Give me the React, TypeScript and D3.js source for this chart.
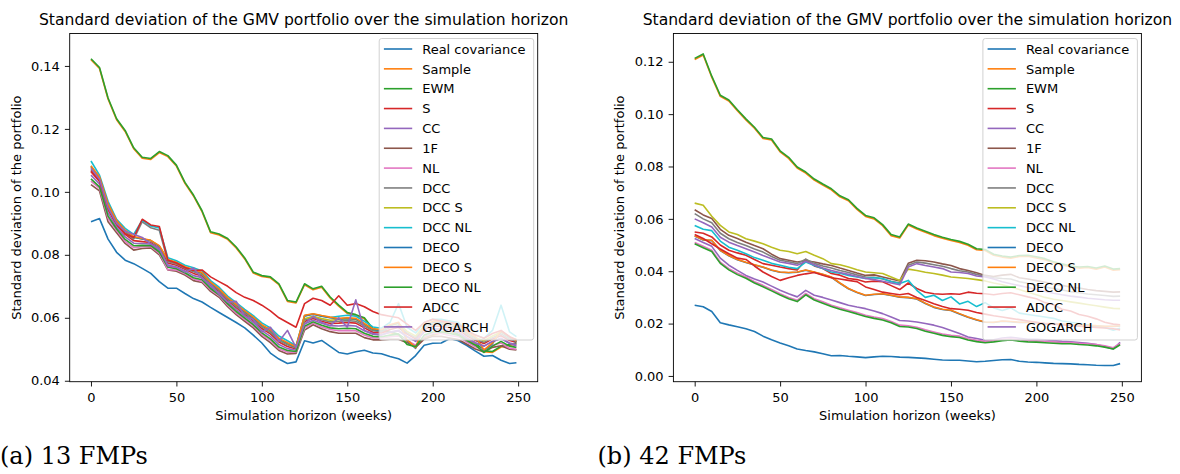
import React, { useEffect, useRef } from "react";
import * as d3 from "d3";

const WEEKS = [
  0, 5, 10, 15, 20, 25, 30, 35, 40, 45, 50, 55, 60, 65, 70, 75, 80, 85, 90, 95,
  100, 105, 110, 115, 120, 125, 130, 135, 140, 145, 150, 155, 160, 165, 170,
  175, 180, 185, 190, 195, 200, 205, 210, 215, 220, 225, 230, 235, 240, 245, 249,
];

const X_TICKS = [0, 50, 100, 150, 200, 250];
const A_Y_TICKS = [0.04, 0.06, 0.08, 0.1, 0.12, 0.14];
const B_Y_TICKS = [0, 0.02, 0.04, 0.06, 0.08, 0.1, 0.12];

const LABELS = [
  "Real covariance", "Sample", "EWM", "S", "CC", "1F", "NL", "DCC", "DCC S",
  "DCC NL", "DECO", "DECO S", "DECO NL", "ADCC", "GOGARCH",
];

const COLORS = [
  "#1f77b4", "#ff7f0e", "#2ca02c", "#d62728", "#9467bd", "#8c564b", "#e377c2",
  "#7f7f7f", "#bcbd22", "#17becf", "#1f77b4", "#ff7f0e", "#2ca02c", "#d62728",
  "#9467bd",
];

const TITLE = "Standard deviation of the GMV portfolio over the simulation horizon";

// (a) 13 FMPs -- standard deviation x 1000
const A_REAL = [90.5, 91.5, 85.0, 80.8, 78.3, 77.2, 75.7, 74.1, 71.5, 69.4, 69.4, 67.7, 66.1, 65.0, 63.3, 61.7, 60.1, 58.5, 56.8, 54.5, 52.0, 48.8, 46.9, 45.5, 46.0, 52.7, 52.0, 52.8, 50.9, 49.0, 48.5, 49.2, 49.7, 48.8, 48.6, 47.7, 47.0, 45.6, 48.0, 51.3, 51.9, 52.0, 53.4, 52.7, 51.2, 49.4, 47.8, 48.0, 46.5, 45.5, 45.7];
const A_SAMPLE = [142.0, 139.2, 129.5, 122.9, 119.2, 113.7, 110.7, 110.3, 112.5, 111.2, 108.2, 102.7, 98.7, 93.7, 87.0, 86.3, 84.9, 82.2, 78.7, 74.2, 73.1, 72.7, 70.5, 65.2, 64.7, 70.5, 68.9, 69.7, 66.3, 63.7, 61.4, 60.7, 59.7, 56.2, 55.7, 55.3, 54.5, 52.5, 50.7, 53.7, 54.5, 55.2, 55.7, 54.5, 53.2, 51.7, 49.2, 49.0, 50.7, 51.2, 51.7];
const A_EWM = [142.3, 139.5, 129.8, 123.2, 119.5, 114.0, 111.0, 110.6, 112.8, 111.5, 108.5, 103.0, 99.0, 94.0, 87.3, 86.6, 85.2, 82.5, 79.0, 74.5, 73.4, 73.0, 70.8, 65.5, 65.0, 70.8, 69.2, 70.0, 66.6, 64.0, 61.7, 61.0, 60.0, 56.5, 56.0, 55.6, 54.8, 52.8, 51.0, 54.0, 54.8, 55.5, 56.0, 54.8, 53.5, 52.0, 49.5, 49.3, 51.0, 51.5, 52.0];
const A_S = [106.4, 103.3, 94.4, 89.5, 86.5, 84.5, 84.2, 83.9, 82.0, 77.4, 76.7, 75.4, 74.1, 73.3, 70.4, 68.4, 65.5, 63.2, 61.1, 59.1, 56.6, 54.9, 52.3, 50.9, 50.1, 58.8, 59.8, 58.9, 58.2, 58.3, 58.5, 58.3, 56.8, 55.4, 55.2, 56.3, 56.9, 54.8, 53.3, 56.3, 57.3, 57.3, 56.8, 56.3, 54.3, 52.8, 51.8, 53.3, 54.3, 52.8, 52.2];
const A_CC = [105.3, 102.5, 93.3, 88.8, 85.7, 83.7, 83.6, 83.4, 81.4, 76.8, 76.1, 74.9, 73.4, 72.7, 69.8, 67.9, 64.9, 62.6, 60.5, 58.5, 55.9, 54.1, 51.5, 50.2, 49.7, 58.0, 59.2, 58.3, 57.5, 57.4, 57.6, 57.4, 55.9, 54.8, 54.6, 55.4, 55.8, 54.0, 52.5, 55.4, 56.4, 56.4, 55.9, 55.4, 53.5, 52.0, 51.0, 52.5, 53.4, 52.0, 51.5];
const A_1F = [102.3, 100.3, 90.5, 87.0, 83.6, 81.5, 82.0, 82.2, 80.0, 75.2, 74.8, 73.6, 71.8, 71.2, 68.4, 66.5, 63.5, 61.0, 58.9, 56.8, 54.1, 52.1, 49.6, 48.5, 48.7, 56.1, 57.8, 56.5, 55.6, 55.1, 55.1, 55.1, 53.7, 53.0, 53.0, 53.2, 53.2, 52.1, 50.6, 53.2, 54.1, 54.1, 53.6, 53.1, 51.6, 50.1, 49.1, 50.6, 51.1, 50.0, 49.8];
const A_NL = [103.4, 101.1, 91.6, 87.7, 84.3, 82.3, 82.6, 82.6, 80.5, 75.3, 75.2, 74.0, 72.3, 71.6, 68.9, 67.0, 64.0, 61.5, 59.4, 57.4, 54.7, 52.8, 50.2, 49.1, 49.1, 56.8, 58.3, 57.1, 56.3, 55.9, 56.0, 55.9, 54.5, 53.6, 53.6, 54.0, 54.2, 52.8, 51.3, 54.0, 55.0, 55.0, 54.4, 54.0, 52.3, 50.8, 49.8, 51.3, 52.0, 50.3, 50.0];
const A_DCC = [107.1, 103.8, 95.0, 90.0, 87.0, 85.0, 90.5, 88.6, 87.8, 77.9, 77.1, 75.7, 74.6, 73.7, 70.8, 68.7, 65.9, 63.6, 61.5, 59.5, 57.1, 55.4, 52.8, 51.4, 50.4, 59.3, 60.2, 59.4, 58.7, 58.9, 59.1, 58.9, 57.4, 55.9, 55.6, 56.9, 57.5, 55.2, 53.7, 56.9, 57.9, 57.9, 57.4, 56.9, 54.7, 53.2, 52.2, 53.7, 54.9, 53.2, 52.7];
const A_DCC_S = [107.9, 104.4, 95.8, 90.5, 87.5, 85.6, 85.0, 84.5, 82.7, 78.3, 77.4, 76.1, 75.1, 74.1, 71.1, 69.1, 66.2, 64.0, 61.9, 60.0, 57.6, 55.9, 53.3, 51.8, 50.7, 59.7, 60.5, 59.8, 59.2, 59.5, 59.7, 59.5, 57.9, 56.3, 56.0, 57.5, 58.2, 55.7, 54.2, 57.5, 58.5, 58.5, 58.0, 57.5, 55.2, 53.7, 52.7, 54.2, 55.5, 53.7, 53.1];
const A_DCC_NL = [109.8, 105.3, 97.0, 91.3, 88.4, 86.5, 91.0, 89.2, 88.5, 79.1, 78.1, 76.7, 75.9, 74.9, 71.8, 69.7, 66.9, 64.8, 62.7, 60.7, 58.4, 56.8, 54.2, 52.7, 51.1, 60.6, 61.2, 60.6, 60.1, 60.5, 60.8, 60.5, 58.9, 57.1, 56.7, 58.5, 64.5, 57.0, 55.2, 58.5, 59.5, 59.5, 59.0, 58.5, 56.0, 54.5, 53.5, 56.0, 64.0, 55.5, 54.0];
const A_DECO = [108.1, 104.5, 96.0, 90.8, 87.6, 85.6, 85.0, 84.5, 82.7, 78.3, 77.5, 76.0, 75.1, 74.2, 71.1, 69.0, 66.2, 64.1, 62.0, 60.0, 57.6, 56.0, 53.3, 51.9, 50.6, 60.6, 61.1, 60.5, 60.0, 59.6, 59.8, 59.6, 58.0, 56.3, 56.0, 57.6, 58.4, 52.8, 50.3, 57.6, 58.6, 58.6, 58.1, 57.6, 55.3, 53.8, 49.6, 51.8, 55.6, 53.8, 52.3];
const A_DECO_S = [108.3, 104.7, 96.2, 90.9, 87.8, 85.8, 85.2, 84.6, 82.9, 78.5, 77.6, 76.2, 75.3, 74.4, 71.3, 69.2, 66.4, 64.3, 62.2, 60.2, 57.8, 56.2, 53.5, 52.1, 50.8, 60.8, 61.3, 60.7, 60.2, 59.8, 60.0, 59.8, 58.2, 56.5, 56.2, 57.8, 58.6, 53.0, 50.5, 57.8, 58.8, 58.8, 58.3, 57.8, 55.5, 54.0, 49.8, 52.0, 55.8, 54.0, 52.5];
const A_DECO_NL = [104.1, 101.6, 92.3, 88.2, 84.9, 82.9, 83.0, 82.9, 80.9, 76.1, 75.6, 74.3, 72.7, 72.1, 69.3, 67.3, 64.4, 62.0, 59.9, 57.8, 55.2, 53.3, 50.7, 49.6, 49.3, 57.3, 58.7, 57.6, 56.8, 56.5, 56.7, 56.5, 55.1, 54.1, 54.0, 54.5, 54.8, 51.5, 50.8, 54.5, 55.5, 55.5, 55.0, 54.5, 52.8, 51.3, 49.0, 51.0, 52.5, 51.0, 50.6];
const A_ADCC = [106.7, 103.5, 94.6, 89.8, 86.7, 85.5, 91.3, 89.5, 89.0, 78.3, 77.4, 76.0, 75.0, 75.2, 73.0, 71.5, 70.0, 68.0, 66.5, 65.5, 64.0, 62.2, 60.0, 58.5, 57.0, 64.5, 66.2, 65.5, 64.0, 67.0, 64.0, 64.5, 63.5, 62.0, 61.0, 60.5, 60.0, 58.0, 56.0, 58.5, 59.5, 59.0, 58.5, 58.0, 56.0, 54.5, 53.5, 55.0, 56.0, 54.0, 53.0];
const A_GOGARCH = [107.5, 104.0, 95.0, 90.0, 87.5, 86.5, 85.5, 83.5, 82.0, 76.5, 76.0, 74.5, 75.8, 72.5, 70.5, 67.5, 65.0, 65.2, 60.5, 59.5, 55.5, 57.0, 52.5, 56.0, 50.5, 58.0, 60.5, 58.5, 57.5, 60.0, 57.0, 65.7, 56.0, 55.0, 54.5, 55.5, 56.0, 54.0, 52.8, 55.5, 56.5, 56.5, 56.0, 55.5, 53.5, 52.0, 51.0, 52.5, 53.5, 51.8, 51.0];

// (b) 42 FMPs -- standard deviation x 1000
const B_REAL = [27.0, 26.4, 24.6, 20.3, 19.5, 18.8, 18.0, 17.0, 15.2, 13.8, 12.6, 11.5, 10.3, 9.7, 9.2, 8.5, 7.7, 7.8, 7.5, 7.3, 7.0, 7.3, 7.5, 7.4, 7.2, 7.1, 6.9, 6.7, 6.4, 6.1, 6.0, 6.0, 5.7, 5.4, 5.6, 5.9, 6.2, 6.3, 5.6, 5.3, 5.2, 5.0, 4.8, 4.7, 4.6, 4.4, 4.3, 4.1, 4.0, 4.0, 4.7];
const B_SAMPLE = [120.9, 122.6, 114.1, 106.8, 105.0, 101.3, 97.8, 94.6, 90.7, 90.1, 85.6, 83.1, 79.4, 77.5, 74.8, 72.9, 71.1, 68.4, 66.9, 63.6, 60.9, 60.0, 57.4, 53.6, 52.7, 57.6, 56.1, 54.9, 53.6, 52.6, 51.7, 51.0, 49.9, 48.2, 47.9, 46.1, 45.4, 45.0, 45.6, 45.7, 45.1, 44.4, 43.2, 42.4, 41.6, 41.2, 41.4, 40.8, 41.6, 40.4, 40.6];
const B_EWM = [121.3, 123.0, 114.5, 107.2, 105.4, 101.7, 98.2, 95.0, 91.1, 90.5, 86.0, 83.5, 79.8, 77.9, 75.2, 73.3, 71.5, 68.8, 67.3, 64.0, 61.3, 60.4, 57.8, 54.0, 53.1, 58.0, 56.5, 55.3, 54.0, 53.0, 52.1, 51.4, 50.3, 48.6, 48.3, 46.5, 45.8, 45.4, 46.0, 46.1, 45.5, 44.8, 43.6, 42.8, 42.0, 41.6, 41.8, 41.2, 42.0, 40.8, 41.0];
const B_S = [55.0, 54.5, 53.1, 50.0, 48.0, 47.0, 46.1, 44.5, 42.9, 42.3, 41.6, 41.0, 40.5, 44.5, 42.0, 41.0, 39.1, 38.5, 37.2, 36.8, 35.9, 36.2, 36.0, 34.5, 33.0, 35.5, 33.4, 32.0, 31.4, 31.2, 31.4, 31.2, 32.0, 31.6, 31.4, 31.0, 31.5, 31.8, 31.0, 30.2, 29.5, 28.0, 27.2, 25.5, 24.8, 23.5, 22.8, 21.8, 20.5, 19.8, 19.5];
const B_CC = [52.5, 51.0, 49.5, 45.0, 42.3, 40.3, 38.4, 37.0, 35.9, 34.3, 32.7, 31.4, 30.2, 32.7, 30.8, 30.0, 29.0, 28.0, 27.0, 26.3, 25.7, 24.8, 23.8, 22.5, 21.2, 21.0, 20.6, 20.0, 19.4, 18.5, 17.4, 16.2, 14.9, 14.3, 13.6, 13.8, 14.5, 14.8, 14.4, 14.0, 14.0, 13.8, 13.5, 13.2, 13.0, 12.8, 12.5, 12.0, 11.2, 10.3, 12.8];
const B_1F = [63.5, 61.5, 60.1, 56.0, 53.7, 52.5, 51.1, 49.8, 48.6, 46.5, 44.8, 44.2, 43.5, 44.0, 43.5, 42.8, 42.2, 41.2, 40.3, 39.3, 38.4, 38.6, 37.8, 37.0, 36.3, 43.0, 44.2, 44.0, 43.5, 42.8, 42.2, 41.0, 40.3, 39.4, 38.4, 38.0, 38.5, 38.8, 37.5, 37.0, 36.4, 35.8, 35.2, 34.6, 34.0, 33.6, 33.0, 32.6, 32.3, 32.0, 32.1];
const B_NL = [51.0, 49.5, 48.0, 43.5, 41.0, 39.2, 37.8, 36.0, 34.6, 33.0, 31.4, 30.0, 28.9, 31.5, 29.5, 28.3, 27.0, 26.0, 25.1, 24.2, 23.2, 22.5, 21.9, 20.8, 19.4, 19.2, 18.6, 17.6, 16.8, 16.0, 15.5, 15.2, 14.2, 13.6, 13.2, 13.5, 14.0, 14.2, 13.8, 13.5, 13.4, 13.2, 13.0, 12.8, 12.8, 12.5, 12.3, 12.0, 11.5, 10.8, 12.4];
const B_DCC = [62.0, 60.0, 58.5, 54.5, 52.4, 51.0, 49.8, 48.5, 47.3, 45.6, 44.2, 43.6, 42.9, 44.6, 43.0, 42.0, 41.2, 40.3, 39.5, 38.6, 37.8, 37.7, 37.0, 36.2, 35.5, 42.3, 43.5, 43.1, 42.5, 41.9, 41.0, 40.2, 39.7, 38.8, 38.1, 37.5, 37.2, 37.0, 36.0, 35.4, 34.7, 34.0, 33.4, 32.8, 32.2, 31.8, 31.3, 31.0, 30.7, 30.4, 30.5];
const B_DCC_S = [66.0, 65.2, 61.0, 57.5, 55.0, 54.0, 52.4, 51.5, 50.5, 49.2, 48.0, 47.5, 46.7, 47.5, 46.1, 44.8, 42.9, 42.5, 41.6, 40.6, 39.7, 39.4, 39.1, 37.8, 36.5, 40.8, 40.3, 39.6, 39.1, 38.5, 37.8, 37.5, 37.2, 36.8, 36.3, 35.5, 34.8, 34.0, 33.0, 32.0, 31.0, 30.0, 29.3, 28.8, 28.3, 27.8, 27.3, 26.8, 26.3, 25.8, 25.7];
const B_DCC_NL = [57.5, 56.0, 55.5, 51.5, 49.2, 48.0, 46.7, 45.2, 44.2, 43.0, 42.3, 41.5, 41.0, 43.5, 42.2, 41.0, 39.7, 39.2, 38.4, 37.8, 37.2, 37.5, 37.2, 36.0, 35.3, 36.5, 32.7, 30.0, 30.8, 28.8, 30.2, 27.5, 28.5, 26.5, 28.0, 26.0, 25.0, 26.0, 24.0, 23.5, 23.0, 22.5, 22.0, 21.0, 20.5, 20.0, 19.5, 19.0, 18.5, 17.5, 18.2];
const B_DECO = [53.4, 51.9, 51.7, 47.9, 45.9, 44.4, 43.3, 42.4, 41.5, 40.4, 39.6, 39.4, 39.6, 40.4, 39.6, 38.7, 37.7, 35.4, 33.3, 31.9, 30.7, 31.1, 31.3, 30.7, 30.1, 29.9, 29.4, 27.7, 26.2, 25.4, 25.0, 23.7, 22.4, 21.4, 20.5, 20.4, 20.9, 20.7, 20.4, 20.4, 20.2, 19.9, 19.9, 19.7, 19.5, 19.4, 19.2, 19.1, 18.9, 18.9, 19.1];
const B_DECO_S = [53.5, 52.0, 51.8, 48.0, 46.0, 44.5, 43.4, 42.5, 41.6, 40.5, 39.7, 39.5, 39.7, 40.5, 39.7, 38.8, 37.8, 35.5, 33.4, 32.0, 30.8, 31.2, 31.4, 30.8, 30.2, 30.0, 29.5, 27.8, 26.3, 25.5, 25.1, 23.8, 22.5, 21.5, 20.6, 20.5, 21.0, 20.8, 20.5, 20.5, 20.3, 20.0, 20.0, 19.8, 19.6, 19.5, 19.3, 19.2, 19.0, 19.0, 19.2];
const B_DECO_NL = [50.5, 49.0, 47.5, 43.0, 40.5, 38.7, 37.3, 35.5, 34.1, 32.5, 30.9, 29.5, 28.4, 31.0, 29.0, 27.8, 26.5, 25.5, 24.6, 23.7, 22.7, 22.0, 21.4, 20.3, 18.9, 18.7, 18.1, 17.1, 16.3, 15.5, 15.0, 14.7, 13.7, 13.1, 12.7, 13.0, 13.5, 13.7, 13.3, 13.0, 12.9, 12.7, 12.5, 12.3, 12.3, 12.0, 11.8, 11.5, 11.0, 10.3, 11.9];
const B_ADCC = [54.0, 52.5, 50.5, 48.5, 46.7, 45.0, 44.5, 42.0, 39.7, 38.0, 36.5, 37.5, 38.4, 39.0, 39.5, 38.5, 37.5, 37.0, 36.5, 36.0, 34.0, 33.0, 32.0, 31.5, 31.0, 31.5, 30.0, 28.8, 27.6, 26.5, 25.7, 25.5, 25.1, 24.2, 23.6, 23.0, 22.5, 22.0, 21.5, 21.0, 20.5, 20.0, 19.8, 19.5, 19.3, 19.0, 18.8, 18.5, 18.3, 18.0, 17.6];
const B_GOGARCH = [60.0, 58.5, 56.9, 53.0, 51.1, 49.8, 48.6, 47.3, 46.0, 44.8, 43.5, 43.0, 42.3, 43.8, 42.5, 41.2, 40.3, 39.5, 38.8, 38.0, 37.2, 36.8, 36.2, 35.5, 34.8, 41.6, 42.9, 42.2, 41.6, 41.0, 39.7, 39.5, 39.1, 38.2, 37.8, 37.0, 36.0, 35.2, 34.5, 33.8, 33.0, 32.3, 31.6, 31.0, 30.5, 30.1, 29.7, 29.4, 29.1, 28.9, 28.9];

const PANELS = [
  {
    left: 69.7,
    right: 537.7,
    yDomain: [0.0397, 0.1503],
    yTicks: A_Y_TICKS,
    caption: "(a) 13 FMPs",
    captionX: 0,
    series: [A_REAL, A_SAMPLE, A_EWM, A_S, A_CC, A_1F, A_NL, A_DCC, A_DCC_S, A_DCC_NL, A_DECO, A_DECO_S, A_DECO_NL, A_ADCC, A_GOGARCH],
  },
  {
    left: 673.4,
    right: 1141.4,
    yDomain: [-0.0022, 0.1308],
    yTicks: B_Y_TICKS,
    caption: "(b) 42 FMPs",
    captionX: 597.5,
    series: [B_REAL, B_SAMPLE, B_EWM, B_S, B_CC, B_1F, B_NL, B_DCC, B_DCC_S, B_DCC_NL, B_DECO, B_DECO_S, B_DECO_NL, B_ADCC, B_GOGARCH],
  },
];

const TOP = 33.5;
const BOTTOM = 381.7;
const FONT = "DejaVu Sans, sans-serif";

function drawPanel(svg, p) {
  const x = d3.scaleLinear().domain([-12.45, 261.45]).range([p.left, p.right]);
  const y = d3.scaleLinear().domain(p.yDomain).range([BOTTOM, TOP]);
  const g = svg.append("g");

  // curves
  const line = d3
    .line<number>()
    .x((_, i) => x(WEEKS[i]))
    .y((v) => y(v / 1000));

  g.selectAll("path.series")
    .data(p.series)
    .join("path")
    .attr("class", "series")
    .attr("d", (d) => line(d))
    .attr("fill", "none")
    .attr("stroke", (_, i) => COLORS[i])
    .attr("stroke-width", 1.6)
    .attr("stroke-linejoin", "round");

  // frame
  g.append("rect")
    .attr("x", p.left)
    .attr("y", TOP)
    .attr("width", p.right - p.left)
    .attr("height", BOTTOM - TOP)
    .attr("fill", "none")
    .attr("stroke", "#000")
    .attr("stroke-width", 0.9);

  // x axis
  const xAxis = g
    .append("g")
    .attr("transform", `translate(0,${BOTTOM})`)
    .call(d3.axisBottom(x).tickValues(X_TICKS).tickSize(4.8).tickPadding(6.7).tickFormat(d3.format("d")));
  xAxis.select(".domain").remove();
  xAxis.attr("font-family", FONT).attr("font-size", 13).attr("color", "#000");
  xAxis.selectAll("line").attr("stroke-width", 0.9);

  // y axis
  const yAxis = g
    .append("g")
    .attr("transform", `translate(${p.left},0)`)
    .call(d3.axisLeft(y).tickValues(p.yTicks).tickSize(4.8).tickPadding(5).tickFormat(d3.format(".2f")));
  yAxis.select(".domain").remove();
  yAxis.attr("font-family", FONT).attr("font-size", 13).attr("color", "#000");
  yAxis.selectAll("line").attr("stroke-width", 0.9);

  const cx = (p.left + p.right) / 2;

  // title and axis labels
  g.append("text")
    .attr("x", cx)
    .attr("y", 25)
    .attr("text-anchor", "middle")
    .attr("font-family", FONT)
    .attr("font-size", 15.6)
    .text(TITLE);

  g.append("text")
    .attr("x", cx)
    .attr("y", 420)
    .attr("text-anchor", "middle")
    .attr("font-family", FONT)
    .attr("font-size", 13)
    .text("Simulation horizon (weeks)");

  g.append("text")
    .attr("transform", `translate(${p.left - 49},${(TOP + BOTTOM) / 2}) rotate(-90)`)
    .attr("text-anchor", "middle")
    .attr("font-family", FONT)
    .attr("font-size", 13)
    .text("Standard deviation of the portfolio");

  // legend
  const lw = 154.5;
  const lx = p.right - 4 - lw;
  const legend = g.append("g");
  legend
    .append("rect")
    .attr("x", lx)
    .attr("y", 38.5)
    .attr("width", lw)
    .attr("height", 301.5)
    .attr("rx", 2.5)
    .attr("fill", "#fff")
    .attr("fill-opacity", 0.8)
    .attr("stroke", "#cccccc")
    .attr("stroke-width", 0.9);

  const rows = legend
    .selectAll("g.row")
    .data(LABELS)
    .join("g")
    .attr("class", "row")
    .attr("transform", (_, i) => `translate(${lx},${49 + i * 19.85})`);
  rows
    .append("line")
    .attr("x1", 4.7)
    .attr("x2", 33)
    .attr("stroke", (_, i) => COLORS[i])
    .attr("stroke-width", 1.6);
  rows
    .append("text")
    .attr("x", 43)
    .attr("dy", "0.36em")
    .attr("font-family", FONT)
    .attr("font-size", 13)
    .text((d) => d);

  // sub-caption
  svg
    .append("text")
    .attr("x", p.captionX)
    .attr("y", 464)
    .attr("font-family", "DejaVu Serif, serif")
    .attr("font-size", 24)
    .text(p.caption);
}

const App = () => {
  const chartRef = useRef<SVGSVGElement>(null);

  useEffect(() => {
    document.body.style.margin = "0";
    const svg = d3.select(chartRef.current);
    svg.selectAll("*").remove();
    PANELS.forEach((p) => drawPanel(svg, p));
  }, []);

  return (
    <svg
      ref={chartRef}
      width={1180}
      height={474}
      style={{ position: "absolute", left: 0, top: 0, background: "#fff" }}
    ></svg>
  );
};

export default App;
